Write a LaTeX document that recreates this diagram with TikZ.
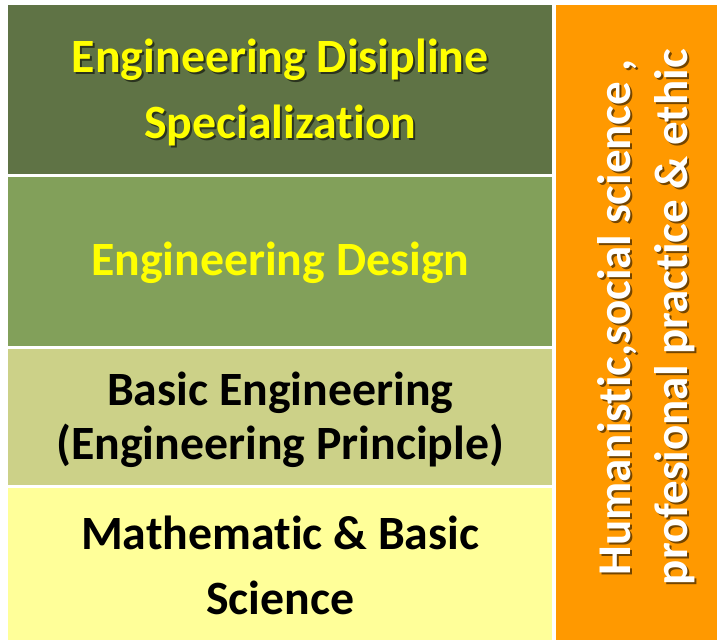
\documentclass[tikz,border=0pt]{standalone}
\usepackage{fontspec}
\setmainfont[Ligatures=NoCommon]{Carlito}
\definecolor{oliveDark}{HTML}{5F7345}
\definecolor{oliveMid}{HTML}{82A05A}
\definecolor{oliveLight}{HTML}{CCD188}
\definecolor{paleYellow}{HTML}{FFFF99}
\definecolor{sideOrange}{HTML}{FF9900}
\definecolor{textYellow}{HTML}{FFFF00}
\tikzset{
	layer/.style={minimum width=544pt, inner sep=0pt, anchor=north west},
	caption/.style={font=\bfseries\fontsize{47.8}{66}\selectfont, align=center},
	sidecaption/.style={font=\bfseries\fontsize{47}{57}\selectfont, align=center, rotate=90},
	shade/.style={text=black, opacity=0.55}
}
\begin{document}
\begin{tikzpicture}[x=1pt,y=1pt]
	\useasboundingbox (0,0) rectangle (717,640);

	% layers of the stack
	\node [layer, fill=oliveDark, minimum height=169pt] (spec) at (8,635) {};
	\node [layer, fill=oliveMid, minimum height=169pt] (design) at (8,463) {};
	\node [layer, fill=oliveLight, minimum height=136pt] (basic) at (8,291) {};
	\node [layer, fill=paleYellow, minimum height=152pt] (math) at (8,152) {};

	% side column
	\node [fill=sideOrange, minimum width=161pt, minimum height=635pt, inner sep=0pt, anchor=south west] (side) at (556,0) {};

	% texts
	\node [caption, shade] (specShade) at ([xshift=2pt, yshift=-5pt]spec.center) {Engineering Disipline\\Specialization};
	\node [caption, text=textYellow] (specText) at ([yshift=-3pt]spec.center) {Engineering Disipline\\Specialization};
	\node [caption, text=textYellow] (designText) at ([yshift=-1pt]design.center) {Engineering Design};
	\node [caption, font=\bfseries\fontsize{47.8}{54}\selectfont] (basicText) at ([yshift=-3pt]basic.center) {Basic Engineering\\(Engineering Principle)};
	\node [caption, font=\bfseries\fontsize{47.8}{65}\selectfont] (mathText) at ([yshift=-1pt]math.center) {Mathematic \& Basic\\Science};

	% vertical text
	\node [sidecaption, shade] (sideShade) at ([xshift=11pt, yshift=3pt]side.center) {Humanistic,social science ,\\profesional practice \& ethic};
	\node [sidecaption, text=white] (sideText) at ([xshift=9pt, yshift=5pt]side.center) {Humanistic,social science ,\\profesional practice \& ethic};
\end{tikzpicture}
\end{document}
